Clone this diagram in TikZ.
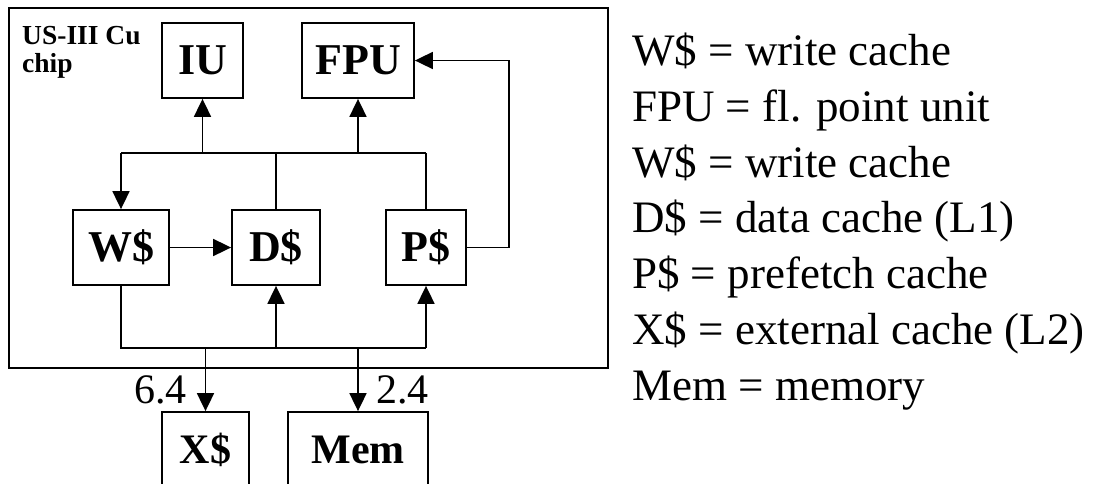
\documentclass[tikz,border=0pt]{standalone}
\usepackage{fontspec}
\setmainfont{Liberation Serif}
\usetikzlibrary{arrows.meta, positioning}

\begin{document}
\begin{tikzpicture}[
    x=1pt, y=-1pt,
    every node/.style={font=\fontsize{42}{50}\selectfont},
    unit/.style={
        rectangle, draw, line width=1.8pt, inner sep=0pt,
        minimum height=75pt, font=\fontsize{44}{50}\selectfont\bfseries
    },
    wire/.style={line width=1.8pt},
    arr/.style={wire, -{Triangle[length=18pt, width=17pt]}},
    legend/.style={anchor=base west, inner sep=0pt, font=\fontsize{45}{54}\selectfont}
]
\useasboundingbox (0,0) rectangle (1096,483);

%% ---- Chip outline ----
\node[draw, line width=1.8pt, inner sep=0pt, anchor=north west,
      minimum width=599pt, minimum height=360pt] (chip) at (8,7) {};
\node[anchor=base west, inner sep=0pt, align=left,
      font=\fontsize{27.5}{28}\selectfont\bfseries] (chiplbl) at (22,72) {US-III Cu\\chip};

%% ---- Units ----
\node[unit, minimum width=81pt]  (iu)  at (202.5,60.5)  {IU};
\node[unit, minimum width=112pt] (fpu) at (358,60.5)    {FPU};
\node[unit, minimum width=96pt]  (ws)  at (121,247.5)   {W\$};
\node[unit, minimum width=88pt]  (ds)  at (276,247.5)   {D\$};
\node[unit, minimum width=80pt]  (ps)  at (426,247.5)   {P\$};
\node[unit, minimum width=87pt, font=\fontsize{42}{50}\selectfont\bfseries]  (xs)  at (205.5,449.5) {X\$};
\node[unit, minimum width=140pt, font=\fontsize{42}{50}\selectfont\bfseries] (mem) at (358,449.5)   {Mem};

%% ---- Bus levels ----
\coordinate (ubus) at (0,153);
\coordinate (lbus) at (0,348);

%% ---- Upper bus ----
\draw[wire] (ws.north |- ubus) -- (ps.north |- ubus);
\draw[arr]  (ws.north |- ubus) -- (ws.north);
\draw[wire] (ds.north |- ubus) -- (ds.north);
\draw[wire] (ps.north |- ubus) -- (ps.north);
\draw[arr]  (iu.south |- ubus) -- (iu.south);
\draw[arr]  (fpu.south |- ubus) -- (fpu.south);
\draw[arr]  (ps.east) -- ++(42,0) |- (fpu.east);
\draw[arr]  (ws) -- (ds);

%% ---- Lower bus ----
\draw[wire] (ws.south) -- (ws.south |- lbus) -- (ps.south |- lbus);
\draw[arr]  (ds.south |- lbus) -- (ds.south);
\draw[arr]  (ps.south |- lbus) -- (ps.south);
\draw[arr]  (xs.north |- lbus) -- (xs.north);
\draw[arr]  (mem.north |- lbus) -- (mem.north);

%% ---- Bandwidths ----
\node[anchor=base east, inner sep=0pt] (bwx) at (187,403) {6.4};
\node[anchor=base west, inner sep=0pt] (bwm) at (376,403) {2.4};

%% ---- Legend ----
\node[legend] (leg1) at (632,65)  {W\$ = write cache};
\node[legend] (leg2) at (632,121) {FPU = fl. point unit};
\node[legend] (leg3) at (632,177) {W\$ = write cache};
\node[legend] (leg4) at (632,232) {D\$ = data cache (L1)};
\node[legend] (leg5) at (632,288) {P\$ = prefetch cache};
\node[legend] (leg6) at (632,344) {X\$ = external cache (L2)};
\node[legend] (leg7) at (632,400) {Mem = memory};

\end{tikzpicture}
\end{document}
